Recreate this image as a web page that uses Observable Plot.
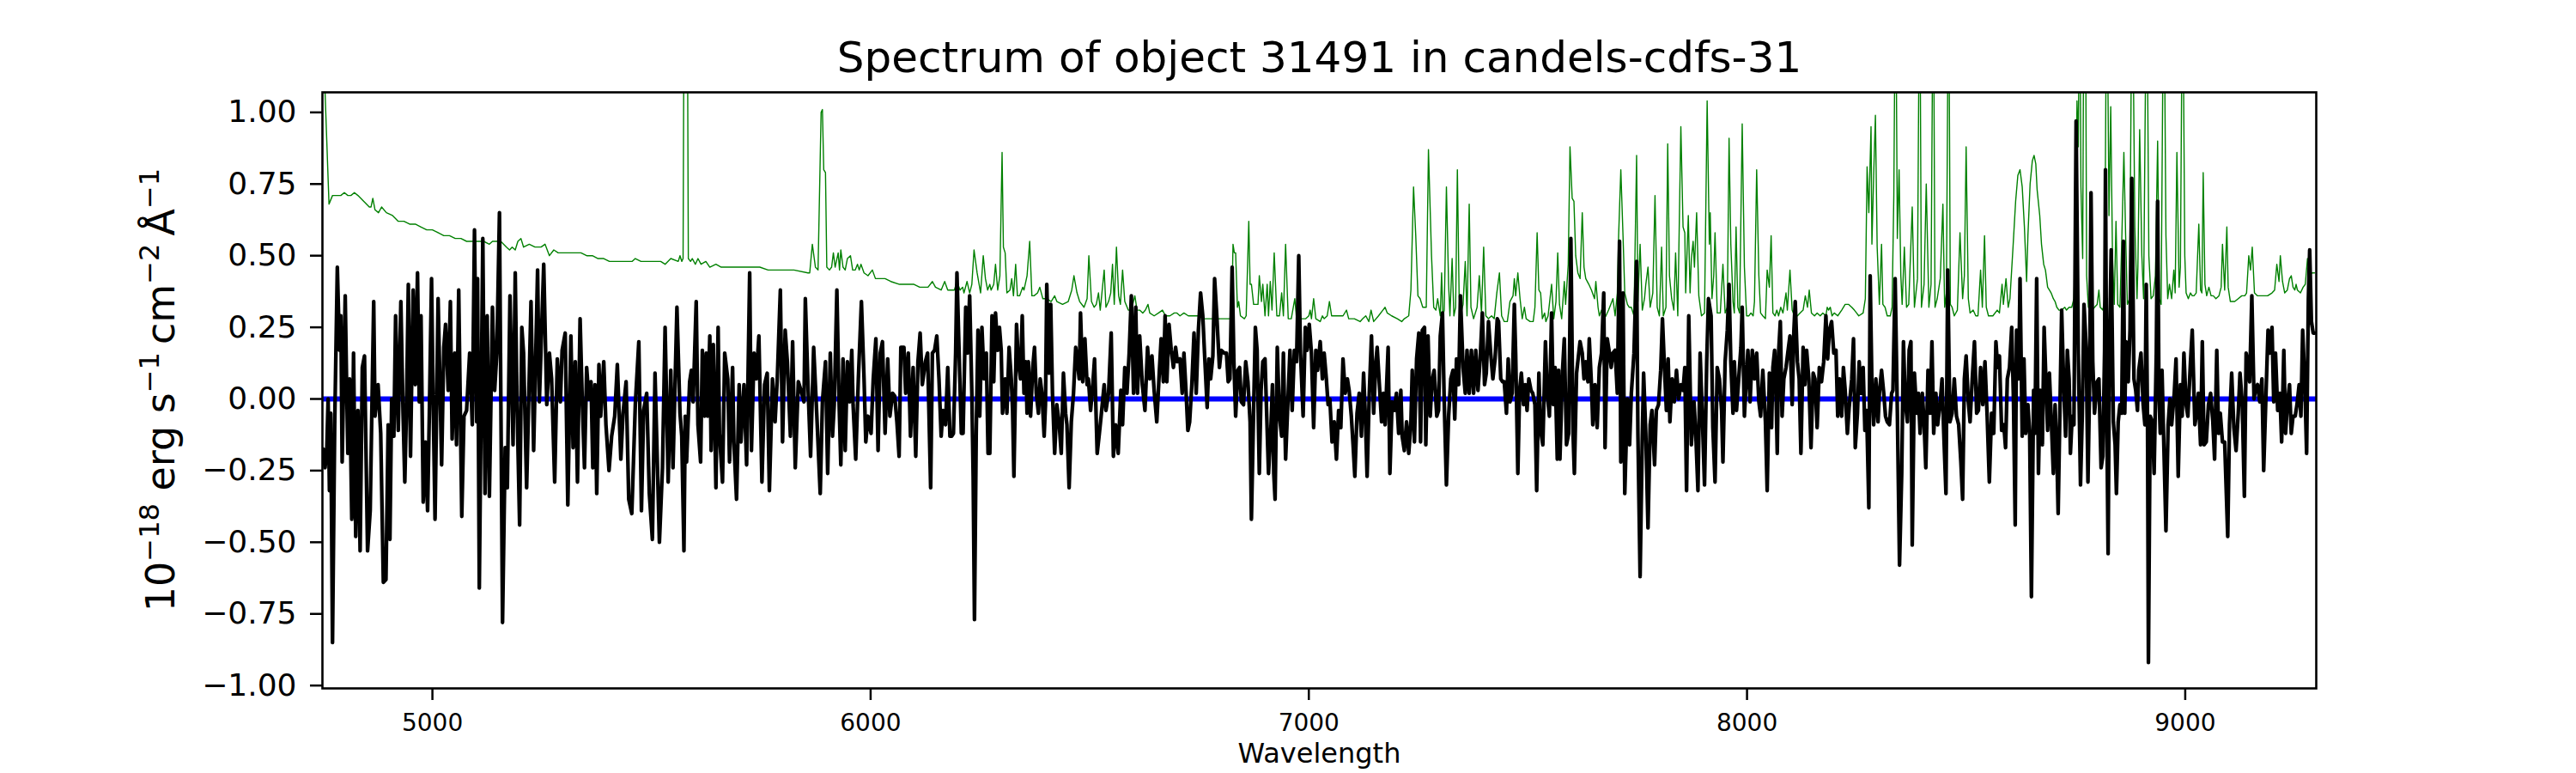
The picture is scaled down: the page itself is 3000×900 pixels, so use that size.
<!DOCTYPE html>
<html><head><meta charset="utf-8">
<script src="https://cdn.jsdelivr.net/npm/d3@7"></script>
<script src="https://cdn.jsdelivr.net/npm/@observablehq/plot@0.6"></script>
<style>html,body{margin:0;padding:0;background:#fff;}</style>
</head><body><div id="chart"></div>
<script>
const titleText = "Spectrum of object 31491 in candels-cdfs-31";
const xLabel = "Wavelength";
const xTicks = [5000, 6000, 7000, 8000, 9000];
const yTicks = [-1, -0.75, -0.5, -0.25, 0, 0.25, 0.5, 0.75, 1];
const xDomain = [4749, 9299];
const yDomain = [-1.01, 1.07];

// observed flux [wavelength, flux]
const fluxPoints = [
[4751,-0.175],[4755,-0.24],[4759,-0.175],[4762,0.00],[4765,-0.32],[4768,-0.05],[4772,-0.85],[4777,-0.09],[4783,0.46],[4788,0.17],[4791,0.29],[4794,-0.22],[4801,0.36],[4804,0.07],[4807,-0.19],[4811,0.07],[4816,-0.42],[4820,0.16],[4825,-0.48],[4830,-0.04],[4835,-0.53],[4840,0.11],[4845,0.15],[4852,-0.53],[4858,-0.39],[4866,0.34],[4869,-0.06],[4876,0.05],[4882,-0.12],[4888,-0.64],[4894,-0.63],[4899,-0.09],[4903,-0.49],[4907,0.00],[4912,-0.13],[4916,0.29],[4922,-0.11],[4928,0.34],[4933,-0.05],[4937,-0.29],[4941,-0.02],[4945,0.40],[4950,-0.20],[4956,0.38],[4961,0.05],[4966,0.44],[4970,-0.01],[4974,0.29],[4979,-0.36],[4984,-0.15],[4989,-0.39],[4993,-0.05],[4998,0.42],[5002,-0.04],[5006,-0.42],[5013,0.35],[5021,-0.23],[5026,0.18],[5030,0.26],[5036,0.03],[5041,0.34],[5045,-0.14],[5051,0.16],[5055,-0.16],[5060,0.38],[5067,-0.41],[5072,-0.06],[5078,-0.04],[5085,0.16],[5091,-0.09],[5096,0.59],[5101,-0.08],[5103,0.42],[5107,-0.66],[5115,0.56],[5120,-0.33],[5125,0.29],[5130,-0.34],[5137,0.32],[5142,0.03],[5147,0.16],[5153,0.65],[5160,-0.78],[5166,-0.17],[5171,-0.31],[5177,0.36],[5184,-0.16],[5189,0.44],[5193,-0.01],[5199,-0.44],[5204,0.25],[5208,0.16],[5215,-0.31],[5225,0.34],[5231,-0.18],[5240,0.45],[5244,-0.01],[5254,0.47],[5261,-0.02],[5267,0.16],[5272,0.07],[5279,-0.29],[5285,0.14],[5292,-0.01],[5296,0.17],[5303,0.23],[5309,-0.37],[5316,0.22],[5321,-0.17],[5326,0.13],[5331,-0.29],[5337,0.28],[5342,-0.01],[5347,-0.24],[5352,0.11],[5357,0.00],[5362,0.06],[5366,-0.24],[5371,0.05],[5375,-0.33],[5380,0.12],[5384,-0.06],[5391,0.13],[5396,-0.09],[5403,-0.25],[5409,-0.13],[5416,-0.06],[5422,0.12],[5430,-0.21],[5435,-0.05],[5442,0.06],[5448,-0.35],[5455,-0.40],[5463,-0.02],[5471,0.20],[5477,-0.39],[5482,-0.04],[5489,0.02],[5495,-0.33],[5502,-0.49],[5508,0.09],[5518,-0.50],[5525,-0.24],[5531,0.25],[5538,-0.29],[5544,0.10],[5549,-0.24],[5558,0.32],
[5565,-0.05],[5569,-0.13],[5574,-0.53],[5577,-0.06],[5580,-0.22],[5584,-0.06],[5587,0.06],[5591,0.10],[5595,-0.01],[5602,0.34],[5606,-0.09],[5612,-0.22],[5616,0.17],[5621,-0.06],[5625,0.16],[5628,-0.06],[5633,0.22],[5636,-0.18],[5641,0.19],[5647,-0.31],[5652,0.25],[5655,-0.12],[5662,-0.29],[5667,0.16],[5674,0.07],[5678,-0.22],[5685,0.11],[5688,-0.15],[5694,-0.35],[5700,0.05],[5704,-0.15],[5711,0.05],[5717,-0.23],[5724,0.44],[5728,-0.18],[5734,0.16],[5739,0.07],[5745,0.22],[5752,-0.29],[5758,0.05],[5764,0.09],[5769,-0.32],[5776,0.07],[5782,-0.08],[5787,0.07],[5794,0.38],[5799,-0.15],[5805,0.24],[5810,0.13],[5817,-0.13],[5822,0.20],[5828,-0.24],[5835,0.06],[5841,0.03],[5848,-0.01],[5851,0.35],[5857,0.05],[5863,-0.20],[5870,0.18],[5877,-0.05],[5885,-0.33],[5890,-0.01],[5897,0.13],[5902,-0.26],[5908,0.16],[5913,-0.13],[5917,-0.02],[5923,0.38],[5928,-0.01],[5932,-0.23],[5937,0.14],[5942,-0.18],[5947,0.13],[5952,-0.01],[5957,0.17],[5960,-0.02],[5966,-0.21],[5972,0.07],[5979,0.34],[5985,0.07],[5989,-0.15],[5994,-0.06],[6001,-0.12],[6006,0.07],[6012,0.21],[6017,-0.18],[6022,0.16],[6027,0.20],[6033,-0.12],[6039,0.14],[6044,-0.06],[6050,0.02],[6055,0.01],[6060,-0.08],[6065,-0.20],[6069,0.18],[6076,0.18],[6080,0.02],[6086,0.16],[6091,-0.13],[6097,0.11],[6103,-0.20],[6108,0.13],[6113,0.23],[6118,0.05],[6125,0.13],[6130,0.16],[6137,-0.31],[6141,0.16],[6146,0.17],[6151,0.22],[6156,0.07],[6161,-0.13],[6165,-0.04],[6171,-0.09],[6176,0.11],
[6181,-0.13],[6185,-0.13],[6189,-0.12],[6194,0.16],[6197,0.44],[6202,0.16],[6207,-0.12],[6211,-0.12],[6217,0.32],[6221,0.16],[6226,0.36],[6231,0.02],[6234,-0.27],[6237,-0.77],[6241,-0.12],[6245,0.24],[6249,-0.06],[6254,0.25],[6259,0.07],[6264,0.16],[6268,-0.19],[6272,-0.19],[6277,0.29],[6281,0.06],[6285,0.30],[6290,0.17],[6294,0.25],[6298,0.17],[6301,-0.05],[6307,0.07],[6311,-0.05],[6316,0.18],[6321,0.07],[6324,-0.04],[6327,-0.27],[6333,0.26],[6337,0.13],[6342,0.07],[6346,0.29],[6350,0.02],[6354,0.13],[6357,-0.05],[6360,0.13],[6365,-0.06],[6370,0.11],[6374,0.18],[6378,0.02],[6383,-0.05],[6387,0.07],[6391,0.02],[6396,-0.13],[6399,-0.02],[6402,0.40],[6407,0.09],[6411,0.33],[6415,0.02],[6420,-0.19],[6425,-0.02],[6430,-0.08],[6435,-0.19],[6440,0.09],[6445,-0.05],[6448,-0.09],[6453,-0.31],[6458,-0.08],[6463,0.02],[6468,0.18],[6472,0.13],[6476,0.07],[6479,0.30],[6484,0.06],[6489,0.21],[6494,0.05],[6497,0.07],[6502,-0.04],[6507,0.05],[6511,0.14],[6517,-0.19],[6522,-0.12],[6526,-0.06],[6533,0.05],[6537,-0.04],[6543,0.02],[6549,0.23],[6554,-0.20],[6559,-0.09],[6565,-0.19],[6571,0.03],[6575,-0.09],[6580,0.11],[6585,0.02],[6590,0.16],[6595,0.36],[6600,0.02],[6605,0.32],[6609,0.02],[6614,0.22],[6620,0.05],[6626,-0.04],[6632,0.18],[6637,0.07],[6642,0.15],[6647,0.03],[6653,-0.08],[6659,0.10],[6663,0.21],[6668,0.06],[6672,0.29],[6676,0.06],[6681,0.26],[6686,0.17],[6691,0.11],[6696,0.18],[6700,0.13],[6706,0.14],[6711,0.02],[6715,0.16],[6720,0.02],[6724,-0.11],[6728,-0.08],[6733,0.05],[6738,0.23],[6743,0.02],[6748,0.24],[6753,0.37],[6758,0.29],[6762,0.16],[6768,-0.03],[6772,0.14],[6776,0.07],[6781,0.15],[6785,0.42],[6790,0.29],[6796,0.11],[6800,0.17],
[6807,0.16],[6812,0.16],[6816,0.06],[6820,0.07],[6825,0.46],[6829,0.13],[6833,-0.06],[6838,0.10],[6842,0.11],[6846,-0.01],[6851,-0.02],[6856,0.13],[6861,0.06],[6866,-0.08],[6869,-0.42],[6874,-0.04],[6878,0.25],[6882,0.17],[6887,-0.26],[6891,0.03],[6895,0.13],[6900,0.14],[6904,-0.06],[6908,-0.26],[6913,-0.12],[6917,0.05],[6920,-0.26],[6923,-0.35],[6928,0.18],[6933,-0.06],[6938,-0.13],[6942,0.16],[6947,-0.21],[6953,0.02],[6957,0.17],[6962,-0.04],[6967,0.17],[6972,0.13],[6977,0.50],[6981,0.16],[6987,-0.06],[6992,0.25],[6996,0.17],[7001,0.26],[7006,0.16],[7011,-0.10],[7016,0.17],[7020,0.10],[7026,0.20],[7031,0.07],[7035,0.16],[7040,0.07],[7044,-0.02],[7048,0.00],[7053,-0.15],[7058,-0.08],[7063,-0.21],[7068,-0.04],[7073,-0.10],[7078,0.14],[7083,0.02],[7088,0.07],[7092,0.03],[7097,-0.06],[7101,-0.16],[7105,-0.27],[7110,-0.05],[7115,0.02],[7120,-0.13],[7125,0.09],[7129,-0.06],[7133,-0.27],[7138,0.02],[7143,0.22],[7148,-0.05],[7153,0.13],[7156,0.18],[7161,0.05],[7166,-0.08],[7170,0.02],[7174,-0.09],[7181,0.18],[7185,-0.26],[7190,-0.01],[7195,-0.04],[7200,0.02],[7205,-0.12],[7210,0.03],[7213,-0.13],[7218,-0.18],[7223,-0.08],[7228,-0.19],[7233,-0.08],[7236,0.10],[7241,-0.15],[7246,0.14],[7251,0.23],[7255,-0.15],[7259,0.24],[7264,0.25],[7267,-0.16],[7272,0.22],[7277,-0.06],[7281,0.06],[7286,0.10],[7292,-0.06],[7296,-0.04],[7300,0.22],[7305,0.30],[7309,-0.01],[7314,-0.30],[7319,-0.06],[7324,0.07],[7329,0.10],[7333,-0.07],[7337,0.14],[7342,0.05],[7346,0.36],[7352,0.11],[7357,0.02],[7361,0.17],[7366,0.02],[7371,0.17],[7376,0.02],[7381,0.17],[7386,0.03],[7391,0.14],[7396,0.30],[7401,0.05],[7405,0.09],[7410,0.27],[7415,0.16],[7420,0.07],[7425,0.14],
[7430,0.28],[7433,0.27],[7438,0.07],[7442,0.06],[7446,0.06],[7451,-0.05],[7455,0.14],[7459,-0.01],[7464,0.02],[7469,0.33],[7472,0.16],[7477,-0.26],[7481,0.03],[7485,0.09],[7490,-0.02],[7494,0.05],[7498,-0.04],[7502,0.07],[7507,0.03],[7511,0.02],[7516,-0.02],[7520,-0.32],[7525,0.09],[7529,-0.11],[7534,-0.16],[7540,0.20],[7544,0.02],[7549,-0.06],[7554,0.30],[7558,-0.02],[7562,0.11],[7567,-0.21],[7570,0.10],[7573,-0.21],[7579,0.10],[7583,0.21],[7588,-0.16],[7593,-0.12],[7598,0.56],[7603,-0.12],[7606,-0.26],[7611,0.09],[7616,0.16],[7619,0.20],[7624,0.16],[7628,0.07],[7632,0.13],[7637,0.06],[7640,0.21],[7645,0.05],[7648,-0.09],[7653,0.05],[7658,-0.10],[7663,0.11],[7668,0.16],[7673,0.37],[7676,-0.17],[7681,0.21],[7686,0.16],[7690,0.11],[7694,0.16],[7699,0.17],[7704,0.02],[7709,0.55],[7712,-0.22],[7717,0.37],[7721,-0.33],[7727,0.00],[7732,-0.16],[7736,0.02],[7742,0.16],[7748,0.48],[7751,-0.12],[7756,-0.62],[7761,-0.13],[7764,0.09],[7769,-0.12],[7774,-0.45],[7779,-0.09],[7783,-0.04],[7789,-0.23],[7793,-0.04],[7798,-0.02],[7803,0.10],[7807,0.28],[7811,0.13],[7816,-0.04],[7820,0.14],[7824,-0.08],[7829,0.07],[7834,-0.01],[7839,0.10],[7844,0.00],[7849,0.05],[7854,0.03],[7858,0.11],[7862,-0.32],[7867,0.29],[7873,-0.16],[7879,-0.01],[7883,-0.12],[7888,-0.32],[7893,0.16],[7898,-0.06],[7903,-0.30],[7908,0.13],[7912,0.35],[7918,0.29],[7922,-0.10],[7927,-0.29],[7932,0.11],[7937,0.07],[7942,-0.04],[7945,-0.22],[7950,0.13],[7955,0.24],[7959,0.40],[7963,0.13],[7968,-0.05],[7971,0.13],[7976,-0.04],[7981,0.07],[7986,0.18],[7989,0.32],[7994,-0.06],[7999,0.09],[8002,0.17],[8007,-0.01],[8012,0.17],[8017,0.07],[8022,0.16],[8027,-0.01],[8031,-0.06],[8036,0.10],[8042,-0.08],[8046,-0.32],[8051,0.09],
[8056,-0.10],[8059,0.11],[8063,0.17],[8066,0.03],[8069,-0.19],[8072,0.16],[8076,0.27],[8080,-0.06],[8084,0.07],[8089,0.11],[8093,0.16],[8098,0.22],[8103,-0.02],[8107,0.24],[8110,0.34],[8115,0.13],[8119,0.07],[8123,-0.19],[8128,0.18],[8132,0.05],[8136,0.17],[8141,0.07],[8146,-0.17],[8151,0.09],[8155,0.07],[8160,-0.10],[8165,0.11],[8170,0.06],[8175,0.13],[8180,0.29],[8184,0.14],[8188,0.24],[8193,0.27],[8198,0.16],[8203,0.17],[8207,-0.06],[8211,0.07],[8216,-0.06],[8220,0.11],[8224,0.03],[8229,-0.12],[8233,-0.03],[8239,0.07],[8243,0.21],[8247,-0.17],[8252,-0.05],[8256,0.13],[8260,0.02],[8265,0.11],[8269,-0.11],[8273,-0.04],[8278,-0.38],[8281,0.43],[8285,0.05],[8289,-0.09],[8294,0.07],[8299,-0.08],[8302,0.02],[8307,0.10],[8312,0.02],[8316,-0.06],[8320,-0.08],[8325,-0.09],[8330,0.02],[8333,0.03],[8338,0.42],[8343,-0.04],[8348,-0.58],[8353,-0.26],[8357,0.20],[8361,-0.01],[8366,-0.08],[8370,0.17],[8374,0.20],[8377,-0.51],[8382,0.09],[8387,-0.05],[8391,0.02],[8395,-0.12],[8400,0.02],[8404,-0.08],[8408,-0.24],[8413,0.10],[8418,-0.05],[8422,0.20],[8426,-0.12],[8431,0.02],[8435,-0.09],[8441,-0.01],[8445,0.07],[8449,-0.12],[8454,-0.33],[8458,0.45],[8463,-0.08],[8468,-0.05],[8473,0.07],[8478,-0.06],[8483,-0.09],[8488,-0.22],[8492,-0.35],[8496,0.07],[8500,0.15],[8505,-0.01],[8509,-0.08],[8514,0.07],[8519,0.20],[8524,-0.05],[8528,-0.04],[8533,0.11],[8538,-0.02],[8543,0.13],[8548,-0.06],[8553,-0.29],[8558,-0.05],[8563,-0.12],[8568,0.20],[8572,0.11],[8576,0.15],[8581,-0.11],[8586,-0.09],[8590,-0.17],[8594,0.07],[8599,0.11],[8604,0.25],[8608,0.00],[8612,-0.44],[8615,0.24],[8620,0.07],[8623,0.42],[8628,-0.13],[8632,0.14],[8636,-0.12],[8641,-0.02],[8645,-0.12],[8649,-0.69],[8654,0.03],[8657,-0.12],[8661,0.42],[8665,-0.26],[8669,0.03],[8674,-0.16],[8678,0.25],
[8686,-0.11],[8690,0.09],[8694,-0.06],[8699,-0.26],[8703,-0.02],[8707,-0.19],[8710,-0.40],[8715,0.05],[8718,0.31],[8723,0.03],[8727,-0.13],[8731,0.17],[8735,0.07],[8738,-0.19],[8742,-0.06],[8746,-0.09],[8751,0.97],[8756,0.16],[8761,-0.30],[8765,-0.06],[8769,0.33],[8774,0.18],[8778,-0.29],[8782,0.07],[8785,0.72],[8789,0.13],[8793,-0.05],[8799,0.06],[8803,0.07],[8808,-0.24],[8812,-0.20],[8816,0.17],[8818,0.80],[8821,-0.06],[8824,-0.54],[8827,0.16],[8831,0.52],[8836,-0.08],[8840,-0.16],[8843,-0.33],[8847,-0.08],[8851,-0.02],[8855,-0.05],[8859,0.55],[8862,-0.05],[8865,0.20],[8870,0.06],[8874,0.24],[8878,0.77],[8883,0.07],[8887,0.03],[8891,-0.04],[8894,0.10],[8899,0.16],[8904,-0.02],[8908,-0.09],[8911,0.40],[8914,-0.09],[8916,-0.92],[8920,-0.06],[8925,-0.08],[8929,-0.26],[8934,0.16],[8937,0.69],[8940,0.02],[8943,-0.12],[8947,0.10],[8951,-0.15],[8956,-0.46],[8961,-0.09],[8965,0.00],[8969,-0.09],[8975,0.02],[8979,0.14],[8984,-0.27],[8989,0.05],[8993,-0.06],[8997,0.16],[9002,-0.02],[9006,-0.06],[9012,0.13],[9016,0.24],[9022,-0.09],[9026,-0.05],[9030,0.02],[9035,-0.16],[9039,0.20],[9043,-0.16],[9048,-0.15],[9053,-0.02],[9058,0.02],[9063,-0.08],[9067,-0.21],[9072,0.17],[9076,-0.12],[9080,-0.05],[9085,-0.15],[9090,-0.15],[9097,-0.48],[9101,-0.09],[9106,0.09],[9111,-0.10],[9116,-0.18],[9121,-0.05],[9125,0.09],[9130,-0.01],[9135,-0.34],[9139,0.16],[9143,0.13],[9147,0.06],[9152,0.36],[9157,0.00],[9160,0.03],[9165,0.05],[9170,-0.01],[9175,0.07],[9179,-0.25],[9185,0.05],[9189,0.24],[9193,0.16],[9198,0.25],[9202,-0.01],[9206,0.16],[9211,-0.04],[9216,0.02],[9220,-0.15],[9225,0.17],[9229,-0.12],[9233,-0.02],[9238,0.05],[9242,-0.12],[9246,-0.06],[9251,-0.06],[9255,-0.02],[9260,0.05],[9264,-0.06],[9268,0.24],[9273,0.05],[9277,-0.19],[9281,0.35],[9284,0.52],[9288,0.27],[9292,0.23],[9295,0.23]
];

// noise / sky spectrum [wavelength, flux]
const skyPoints = [
[4752,1.20],[4764,0.68],[4772,0.71],[4781,0.71],[4791,0.71],[4799,0.72],[4807,0.71],[4814,0.71],[4822,0.72],[4830,0.71],[4843,0.69],[4856,0.67],[4860,0.67],[4864,0.70],[4869,0.66],[4877,0.65],[4884,0.67],[4895,0.65],[4909,0.64],[4922,0.62],[4935,0.62],[4948,0.61],[4961,0.61],[4974,0.60],[4987,0.59],[5000,0.59],[5013,0.58],[5026,0.57],[5039,0.57],[5052,0.56],[5065,0.56],[5078,0.55],[5104,0.55],[5117,0.55],[5130,0.54],[5137,0.55],[5156,0.55],[5169,0.53],[5176,0.52],[5182,0.53],[5189,0.52],[5195,0.55],[5202,0.56],[5208,0.53],[5221,0.54],[5234,0.53],[5248,0.53],[5257,0.54],[5267,0.50],[5277,0.52],[5287,0.51],[5300,0.51],[5313,0.51],[5326,0.51],[5339,0.51],[5352,0.50],[5365,0.50],[5378,0.49],[5391,0.49],[5404,0.48],[5417,0.48],[5443,0.48],[5456,0.48],[5463,0.49],[5476,0.48],[5495,0.48],[5508,0.48],[5521,0.48],[5531,0.47],[5544,0.49],[5561,0.48],
[5565,0.50],[5569,0.48],[5572,0.49],[5578,3.0],[5584,0.49],[5589,0.48],[5593,0.49],[5600,0.47],[5606,0.49],[5613,0.47],[5624,0.48],[5633,0.46],[5647,0.47],[5659,0.46],[5681,0.46],[5701,0.46],[5721,0.46],[5747,0.46],[5766,0.45],[5792,0.45],[5825,0.45],[5857,0.44],[5861,0.44],[5867,0.54],[5874,0.46],[5880,0.45],[5887,1.00],[5890,1.01],[5893,0.80],[5897,0.79],[5900,0.46],[5906,0.45],[5911,0.46],[5915,0.51],[5919,0.46],[5926,0.51],[5929,0.45],[5932,0.52],[5937,0.46],[5942,0.45],[5947,0.49],[5954,0.50],[5959,0.45],[5965,0.45],[5970,0.47],[5974,0.45],[5978,0.47],[5985,0.44],[5994,0.43],[6004,0.45],[6011,0.42],[6020,0.42],[6033,0.42],[6046,0.41],[6066,0.40],[6086,0.40],[6099,0.40],[6112,0.39],[6125,0.39],[6131,0.39],[6141,0.41],[6148,0.39],[6161,0.38],[6169,0.41],[6176,0.38],
[6191,0.38],[6197,0.41],[6204,0.38],[6210,0.39],[6213,0.37],[6220,0.41],[6226,0.37],[6231,0.40],[6236,0.52],[6243,0.44],[6251,0.37],[6257,0.50],[6262,0.42],[6267,0.38],[6272,0.40],[6275,0.38],[6281,0.40],[6285,0.47],[6290,0.38],[6295,0.43],[6300,0.86],[6303,0.53],[6307,0.51],[6311,0.37],[6318,0.38],[6322,0.42],[6326,0.36],[6331,0.47],[6335,0.36],[6340,0.36],[6347,0.39],[6350,0.38],[6357,0.43],[6363,0.55],[6368,0.36],[6373,0.36],[6381,0.37],[6386,0.39],[6393,0.35],[6402,0.35],[6412,0.34],[6420,0.36],[6425,0.34],[6438,0.33],[6451,0.34],[6459,0.38],[6464,0.43],[6471,0.37],[6477,0.34],[6487,0.32],[6494,0.35],[6498,0.50],[6504,0.34],[6510,0.32],[6515,0.33],[6520,0.37],[6524,0.31],[6533,0.45],[6537,0.32],[6543,0.34],[6548,0.37],[6552,0.47],[6556,0.33],[6561,0.53],[6566,0.36],[6570,0.33],[6575,0.45],[6580,0.34],[6588,0.31],[6595,0.31],[6603,0.36],[6608,0.31],[6614,0.31],[6621,0.30],[6627,0.31],[6633,0.33],[6637,0.30],[6647,0.29],[6657,0.30],[6666,0.31],[6673,0.29],[6683,0.29],[6693,0.30],[6699,0.30],[6706,0.29],[6715,0.30],[6725,0.29],[6732,0.29],[6745,0.29],[6751,0.29],[6761,0.28],[6771,0.28],[6784,0.28],[6797,0.28],
[6820,0.28],[6824,0.29],[6827,0.54],[6830,0.51],[6833,0.51],[6837,0.32],[6840,0.34],[6844,0.29],[6853,0.28],[6857,0.29],[6863,0.62],[6866,0.40],[6869,0.40],[6874,0.33],[6879,0.33],[6884,0.33],[6887,0.43],[6892,0.34],[6895,0.40],[6900,0.29],[6905,0.40],[6908,0.29],[6912,0.41],[6916,0.31],[6921,0.51],[6927,0.29],[6933,0.29],[6938,0.37],[6942,0.29],[6947,0.54],[6953,0.28],[6960,0.28],[6968,0.35],[6972,0.28],[6980,0.28],[6987,0.28],[6993,0.28],[7000,0.29],[7003,0.31],[7006,0.28],[7011,0.35],[7016,0.28],[7026,0.27],[7031,0.29],[7035,0.28],[7042,0.29],[7047,0.34],[7052,0.29],[7058,0.29],[7065,0.29],[7071,0.29],[7078,0.29],[7086,0.31],[7091,0.28],[7104,0.28],[7117,0.27],[7123,0.28],[7130,0.29],[7137,0.27],[7142,0.31],[7148,0.27],[7159,0.29],[7169,0.31],[7174,0.32],[7179,0.30],[7189,0.29],[7202,0.28],[7212,0.27],[7218,0.28],[7228,0.29],[7233,0.38],[7239,0.74],[7244,0.57],[7249,0.36],[7254,0.35],[7260,0.32],[7268,0.32],[7273,0.87],[7280,0.50],[7285,0.32],[7290,0.31],[7294,0.35],[7300,0.29],[7303,0.44],[7306,0.29],[7309,0.31],[7314,0.74],[7319,0.40],[7322,0.29],[7327,0.49],[7331,0.29],[7335,0.32],[7339,0.80],[7343,0.36],[7346,0.29],[7352,0.33],[7357,0.48],[7361,0.29],[7366,0.68],[7370,0.32],[7376,0.28],[7384,0.32],[7389,0.43],[7394,0.30],[7399,0.53],[7404,0.29],[7410,0.28],[7417,0.29],[7423,0.28],[7429,0.37],
[7435,0.44],[7440,0.29],[7446,0.27],[7453,0.27],[7459,0.34],[7466,0.36],[7469,0.42],[7472,0.36],[7477,0.44],[7482,0.35],[7487,0.28],[7492,0.32],[7496,0.28],[7505,0.27],[7512,0.27],[7516,0.32],[7521,0.58],[7525,0.38],[7529,0.37],[7533,0.28],[7538,0.30],[7541,0.27],[7546,0.29],[7554,0.40],[7559,0.28],[7564,0.34],[7568,0.51],[7572,0.33],[7577,0.28],[7583,0.41],[7586,0.33],[7592,0.47],[7596,0.88],[7601,0.70],[7605,0.69],[7609,0.50],[7614,0.44],[7619,0.42],[7624,0.65],[7628,0.46],[7632,0.42],[7639,0.40],[7645,0.38],[7652,0.35],[7655,0.41],[7660,0.32],[7663,0.29],[7668,0.31],[7673,0.28],[7678,0.29],[7684,0.31],[7689,0.33],[7694,0.35],[7699,0.29],[7704,0.37],[7707,0.57],[7712,0.80],[7717,0.57],[7721,0.37],[7727,0.33],[7731,0.32],[7736,0.32],[7742,0.29],[7748,0.85],[7751,0.34],[7756,0.54],[7761,0.31],[7766,0.35],[7769,0.40],[7774,0.46],[7779,0.32],[7785,0.37],[7790,0.71],[7795,0.32],[7800,0.29],[7805,0.53],[7809,0.29],[7815,0.32],[7819,0.89],[7823,0.43],[7828,0.35],[7833,0.31],[7837,0.51],[7842,0.29],[7849,0.95],[7854,0.60],[7858,0.58],[7860,0.37],[7866,0.64],[7870,0.37],[7873,0.49],[7877,0.55],[7880,0.46],[7885,0.65],[7890,0.36],[7896,0.29],[7903,0.30],[7909,1.04],[7914,0.54],[7916,0.65],[7920,0.35],[7924,0.43],[7927,0.58],[7932,0.30],[7939,0.30],[7945,0.47],[7950,0.30],[7955,0.32],[7959,0.91],[7963,0.54],[7968,0.34],[7971,0.30],[7975,0.60],[7979,0.32],[7983,0.30],[7989,0.96],[7994,0.46],[7999,0.29],[8004,0.29],[8009,0.30],[8014,0.29],[8017,0.34],[8022,0.80],[8027,0.43],[8031,0.30],[8036,0.29],[8042,0.28],[8046,0.45],[8051,0.39],[8055,0.57],
[8059,0.30],[8064,0.29],[8068,0.31],[8072,0.29],[8077,0.32],[8082,0.30],[8085,0.33],[8089,0.37],[8092,0.31],[8095,0.38],[8098,0.45],[8103,0.31],[8108,0.29],[8115,0.29],[8121,0.30],[8128,0.31],[8133,0.36],[8138,0.32],[8142,0.38],[8147,0.30],[8154,0.29],[8160,0.30],[8167,0.29],[8173,0.30],[8180,0.29],[8183,0.32],[8186,0.31],[8190,0.32],[8194,0.29],[8199,0.30],[8207,0.29],[8216,0.31],[8224,0.33],[8232,0.33],[8239,0.32],[8245,0.31],[8250,0.30],[8255,0.29],[8265,0.30],[8270,0.35],[8274,0.81],[8278,0.65],[8283,0.95],[8285,0.54],[8289,0.78],[8293,0.99],[8297,0.53],[8302,0.33],[8307,0.54],[8310,0.33],[8315,0.32],[8320,0.29],[8327,0.29],[8331,0.32],[8335,0.71],[8339,1.60],[8343,0.56],[8347,0.80],[8351,0.43],[8354,0.33],[8359,0.53],[8364,0.32],[8369,0.33],[8377,0.67],[8382,0.32],[8389,0.42],[8394,1.60],[8398,0.32],[8404,0.40],[8409,0.75],[8415,0.32],[8420,0.40],[8425,1.60],[8429,0.32],[8434,0.35],[8441,0.42],[8447,0.68],[8451,0.32],[8455,0.37],[8460,1.60],[8464,0.33],[8468,0.32],[8473,0.29],[8480,0.31],[8486,0.58],[8492,0.35],[8496,0.43],[8500,0.88],[8505,0.35],[8509,0.30],[8516,0.31],[8522,0.29],[8527,0.29],[8533,0.45],[8537,0.32],[8542,0.57],[8546,0.32],[8551,0.29],[8561,0.29],[8571,0.31],[8576,0.30],[8582,0.40],[8585,0.33],[8591,0.42],[8596,0.32],[8600,0.35],[8607,0.53],[8613,0.69],[8618,0.78],[8623,0.80],[8628,0.74],[8633,0.60],[8638,0.41],[8641,0.57],[8646,0.75],[8651,0.83],[8655,0.85],[8659,0.82],[8662,0.73],[8668,0.64],[8672,0.54],[8677,0.47],[8681,0.45],
[8686,0.39],[8690,0.38],[8694,0.37],[8699,0.35],[8703,0.34],[8707,0.32],[8712,0.31],[8718,0.31],[8725,0.32],[8729,0.31],[8735,0.32],[8741,0.32],[8746,0.35],[8750,0.57],[8753,1.04],[8756,0.88],[8759,1.60],[8762,0.74],[8766,0.49],[8769,1.60],[8772,1.60],[8775,0.43],[8779,0.32],[8784,0.31],[8788,0.31],[8793,0.32],[8799,0.33],[8803,0.38],[8806,0.32],[8812,0.31],[8816,0.35],[8821,1.60],[8826,0.64],[8830,1.02],[8834,0.50],[8838,0.33],[8842,0.62],[8846,0.33],[8851,0.32],[8855,0.54],[8860,0.86],[8864,0.57],[8868,0.33],[8873,0.35],[8879,1.60],[8885,0.60],[8890,0.35],[8892,0.46],[8896,0.94],[8901,0.50],[8905,0.35],[8912,1.60],[8917,0.50],[8922,0.35],[8927,0.36],[8932,0.43],[8937,0.90],[8941,0.35],[8945,0.33],[8951,1.60],[8956,0.57],[8960,0.35],[8964,0.40],[8969,0.35],[8974,0.45],[8977,0.37],[8981,0.86],[8986,0.39],[8989,0.46],[8994,1.60],[8999,0.50],[9002,0.37],[9007,0.35],[9012,0.37],[9016,0.36],[9020,0.36],[9025,0.37],[9031,0.61],[9035,0.38],[9038,0.37],[9041,0.79],[9045,0.40],[9049,0.36],[9054,0.39],[9059,0.36],[9064,0.36],[9070,0.35],[9077,0.36],[9082,0.39],[9085,0.54],[9090,0.38],[9095,0.60],[9098,0.39],[9103,0.34],[9113,0.34],[9121,0.35],[9129,0.36],[9136,0.36],[9140,0.37],[9145,0.50],[9149,0.45],[9153,0.53],[9158,0.37],[9165,0.36],[9178,0.36],[9188,0.36],[9198,0.37],[9204,0.38],[9209,0.47],[9214,0.41],[9217,0.50],[9222,0.41],[9227,0.37],[9233,0.38],[9238,0.42],[9242,0.43],[9246,0.39],[9250,0.38],[9253,0.40],[9256,0.38],[9263,0.37],[9269,0.39],[9274,0.40],[9279,0.49],[9284,0.43],[9289,0.44],[9295,0.44]
];

// model (zero level) [wavelength, flux]
const modelPoints = [[4749, 0], [9299, 0]];

const rows = pts => pts.map(([w, f]) => ({w, f}));

const chart = Plot.plot({
  width: 3000,
  height: 900,
  marginLeft: 375,
  marginRight: 303,
  marginTop: 107,
  marginBottom: 99,
  style: {fontFamily: "DejaVu Sans", background: "white", color: "black", overflow: "visible"},
  x: {domain: xDomain, label: null},
  y: {domain: yDomain, label: null},
  marks: [
    Plot.line(rows(skyPoints), {x: "w", y: "f", stroke: "#008000", strokeWidth: 1.4, clip: true}),
    Plot.line(rows(modelPoints), {x: "w", y: "f", stroke: "#0000ff", strokeWidth: 6, clip: true}),
    Plot.line(rows(fluxPoints), {x: "w", y: "f", stroke: "black", strokeWidth: 4.3, clip: true}),
    Plot.frame({stroke: "black", strokeWidth: 2.6}),
    Plot.axisX({ticks: xTicks, tickSize: 14, tickPadding: 16, fontSize: 28, strokeWidth: 2.5, tickFormat: d => String(d), label: null}),
    Plot.axisY({ticks: yTicks, tickSize: 14, tickPadding: 16, fontSize: 36, strokeWidth: 2.5, tickFormat: d3.format(".2f"), label: null}),
    Plot.text([titleText], {text: d => d, frameAnchor: "top", lineAnchor: "middle", dy: -40, fontSize: 50}),
    Plot.text([xLabel], {text: d => d, frameAnchor: "bottom", lineAnchor: "middle", dy: 76, fontSize: 32})
  ]
});

// y-axis label with superscripts
const svg = d3.select(chart);
const lab = svg.append("text")
  .attr("transform", "translate(203,454) rotate(-90)")
  .attr("text-anchor", "middle")
  .attr("font-family", "DejaVu Sans")
  .attr("font-size", 46)
  .attr("fill", "black");
const parts = [
  ["10", false], ["−18", true], [" erg s", false], ["−1", true],
  ["\u2009cm", false], ["−2", true], ["\u2009Å", false], ["−1", true]
];
let raised = false;
for (const [s, sup] of parts) {
  const t = lab.append("tspan").text(s);
  if (sup) { t.attr("font-size", 32); if (!raised) { t.attr("dy", -18); raised = true; } }
  else if (raised) { t.attr("dy", 18); raised = false; }
}
document.getElementById("chart").appendChild(chart);
</script>
</body></html>
